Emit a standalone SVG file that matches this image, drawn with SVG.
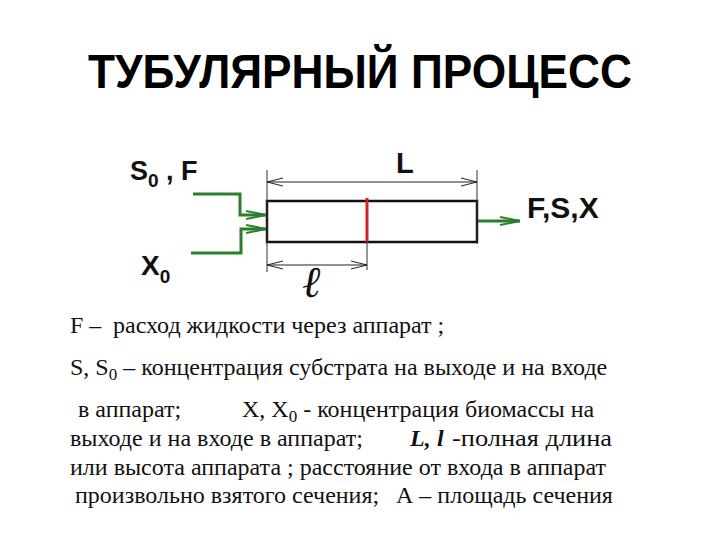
<svg xmlns="http://www.w3.org/2000/svg" width="720" height="540" viewBox="0 0 720 540">
<defs>
<style>
.title{font-family:"Liberation Sans",Arial,sans-serif;font-weight:bold;font-size:48px;fill:#000}
.lbl{font-family:"Liberation Sans",Arial,sans-serif;font-weight:bold;fill:#111}
.body{font-family:"Liberation Serif","Times New Roman",serif;font-size:24px;fill:#111}
.dim{stroke:#222;stroke-width:1.2;fill:none}
.ext{stroke:#333;stroke-width:1;fill:none}
.flow{stroke:#2a7f2a;stroke-width:3;fill:none}
</style>
<marker id="dimArr" viewBox="0 0 16 10" refX="16" refY="5" markerWidth="16" markerHeight="10" markerUnits="userSpaceOnUse" orient="auto-start-reverse">
<path d="M0,1 L16,5 L0,9" fill="none" stroke="#222" stroke-width="1"/>
</marker>
<marker id="flowArr" viewBox="0 0 20 10" refX="20" refY="5" markerWidth="20" markerHeight="10" markerUnits="userSpaceOnUse" orient="auto">
<path d="M0,1 L20,5 L0,9" fill="none" stroke="#2a7f2a" stroke-width="2"/>
</marker>
</defs>
<rect width="720" height="540" fill="#fff"/>
<text class="title" x="88" y="88" textLength="544" lengthAdjust="spacingAndGlyphs">ТУБУЛЯРНЫЙ ПРОЦЕСС</text>

<g id="tube">
<rect x="267" y="201" width="210" height="41" fill="#fff" stroke="#111" stroke-width="2.5"/>
<line x1="367" y1="198" x2="367" y2="242" stroke="#d42020" stroke-width="3"/>
</g>

<g id="connectors">
<line class="ext" x1="267" y1="170" x2="267" y2="272"/>
<line class="ext" x1="477" y1="170" x2="477" y2="244"/>
<line class="ext" x1="367" y1="242" x2="367" y2="270"/>
<line class="dim" x1="267" y1="182" x2="477" y2="182" marker-start="url(#dimArr)" marker-end="url(#dimArr)"/>
<line class="dim" x1="267" y1="265" x2="367" y2="265" marker-start="url(#dimArr)" marker-end="url(#dimArr)"/>
<polyline class="flow" points="193,194 240,194 240,215 266,215" marker-end="url(#flowArr)"/>
<polyline class="flow" points="191,253 241,253 241,229 266,229" marker-end="url(#flowArr)"/>
<line class="flow" x1="478" y1="221" x2="520" y2="221" marker-end="url(#flowArr)"/>
</g>

<g id="label-S0F"><text class="lbl" x="130" y="180" font-size="27">S<tspan font-size="19" dy="7">0</tspan><tspan dy="-7"> ,  F</tspan></text></g>
<g id="label-L"><text class="lbl" x="396" y="173" font-size="29">L</text></g>
<g id="label-FSX"><text class="lbl" x="527" y="218" font-size="30">F,S,X</text></g>
<g id="label-X0"><text class="lbl" x="141" y="275" font-size="28">X<tspan font-size="19" dy="8">0</tspan></text></g>
<g id="label-l"><text x="302" y="297" font-family="'Liberation Serif','DejaVu Serif',serif" font-style="italic" font-size="44" fill="#111">ℓ</text></g>

<g id="legend">
<text class="body" y="333"><tspan x="70">F –</tspan><tspan x="113">расход жидкости через аппарат ;</tspan></text>
<text class="body" x="70" y="375">S, S<tspan font-size="17" dy="5">0</tspan><tspan dy="-5"> – концентрация субстрата на выходе и на входе</tspan></text>
<text class="body" y="417"><tspan x="78">в аппарат;</tspan><tspan x="242">X, X</tspan><tspan font-size="17" dy="5">0</tspan><tspan dy="-5"> - концентрация биомассы на</tspan></text>
<text class="body" y="446"><tspan x="70">выходе и на входе в аппарат;</tspan><tspan x="410" font-weight="bold" font-style="italic">L,</tspan><tspan x="437" font-weight="bold" font-style="italic">l</tspan><tspan x="452" textLength="160" lengthAdjust="spacingAndGlyphs">-полная длина</tspan></text>
<text class="body" x="70" y="475">или высота аппарата ; расстояние от входа в аппарат</text>
<text class="body" y="503"><tspan x="75">произвольно взятого сечения;</tspan><tspan x="396">А – площадь сечения</tspan></text>
</g>
</svg>
